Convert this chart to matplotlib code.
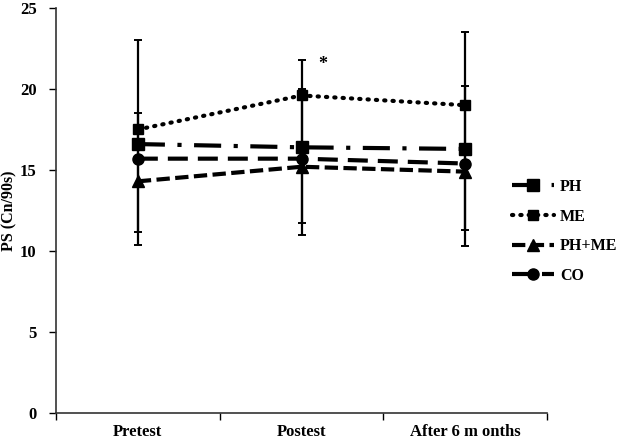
import matplotlib
matplotlib.use("Agg")
import matplotlib.pyplot as plt
import numpy as np

categories = ["Pretest", "Postest", "After 6 m onths"]
ph = [16.6, 16.4, 16.3]
me = [17.5, 19.6, 19.0]
ph_me = [14.3, 15.2, 14.9]
co = [15.7, 15.7, 15.4]

# error bar end points
outer_lo = [10.4, 11.0, 10.3]
outer_hi = [23.0, 21.8, 23.5]
inner_lo = [11.2, 11.7, 11.3]
inner_hi = [18.5, 20.0, 20.2]

yticks = [0, 5, 10, 15, 20, 25]

plt.rcParams['font.family'] = ['Liberation Serif', 'DejaVu Serif']
plt.rcParams['font.weight'] = 'bold'

fig = plt.figure(figsize=(6.2, 4.44), dpi=100)
ax = fig.add_axes([56/620, 31/444, (547-56)/620, (413-8)/444])

x = np.arange(len(categories))

# error bars
ph_arr = np.array(ph)
co_arr = np.array(co)
ax.errorbar(x, ph_arr, yerr=[ph_arr - np.array(outer_lo), np.array(outer_hi) - ph_arr],
            fmt='none', ecolor='black', elinewidth=1.6, capsize=3.2, capthick=1.4, zorder=2)
ax.errorbar(x, co_arr, yerr=[co_arr - np.array(inner_lo), np.array(inner_hi) - co_arr],
            fmt='none', ecolor='black', elinewidth=1.6, capsize=3.2, capthick=1.4, zorder=2)

ax.plot(x, ph, color='black', lw=3, linestyle=(0, (6.5, 3, 1, 3)), marker='s',
        markersize=9, label='PH', zorder=3)
ax.plot(x, me, color='black', lw=3, linestyle=(0, (0.3, 1.7)), dash_capstyle='round',
        marker='s', markersize=7, label='ME', zorder=3)
ax.plot(x, ph_me, color='black', lw=3, linestyle=(0, (3.2, 1.3)), marker='^',
        markersize=8, label='PH+ME', zorder=3)
ax.plot(x, co, color='black', lw=3, linestyle=(0, (4.8, 2.4)), marker='o',
        markersize=8, label='CO', zorder=3)

ax.text(1.13, 21.5, '*', fontsize=13, fontweight='bold', ha='center', va='center')

ax.set_xlim(-0.5, 2.5)
ax.set_ylim(0, 25)
ax.set_yticks(yticks)
ax.set_yticklabels([str(t) for t in yticks], fontsize=12, fontweight='bold')
ax.set_xticks([-0.5, 0.5, 1.5, 2.5])
ax.set_xticklabels([])
ax.set_xticks(x, minor=True)
ax.set_xticklabels(categories, minor=True, fontsize=12, fontweight='bold')
ax.tick_params(axis='x', which='minor', length=0, pad=8)
ax.tick_params(axis='x', which='major', length=5, width=1, direction='out')
ax.tick_params(axis='y', length=5, width=1, direction='out', pad=9)

for s in ['top', 'right']:
    ax.spines[s].set_visible(False)
for s in ['left', 'bottom']:
    ax.spines[s].set_color('#333333')
    ax.spines[s].set_linewidth(1.2)

ax.set_ylabel('PS (Cn/90s)', fontsize=11.5, fontweight='bold')
ax.yaxis.set_label_coords(-0.078, 0.5)

leg = fig.legend(loc='upper left', bbox_to_anchor=(512/620, 1 - 179/444), frameon=False,
                 fontsize=11.5, handlelength=2.6, handletextpad=0.4, labelspacing=0.85,
                 borderaxespad=0, borderpad=0)

fig.savefig('out.png', dpi=100)
